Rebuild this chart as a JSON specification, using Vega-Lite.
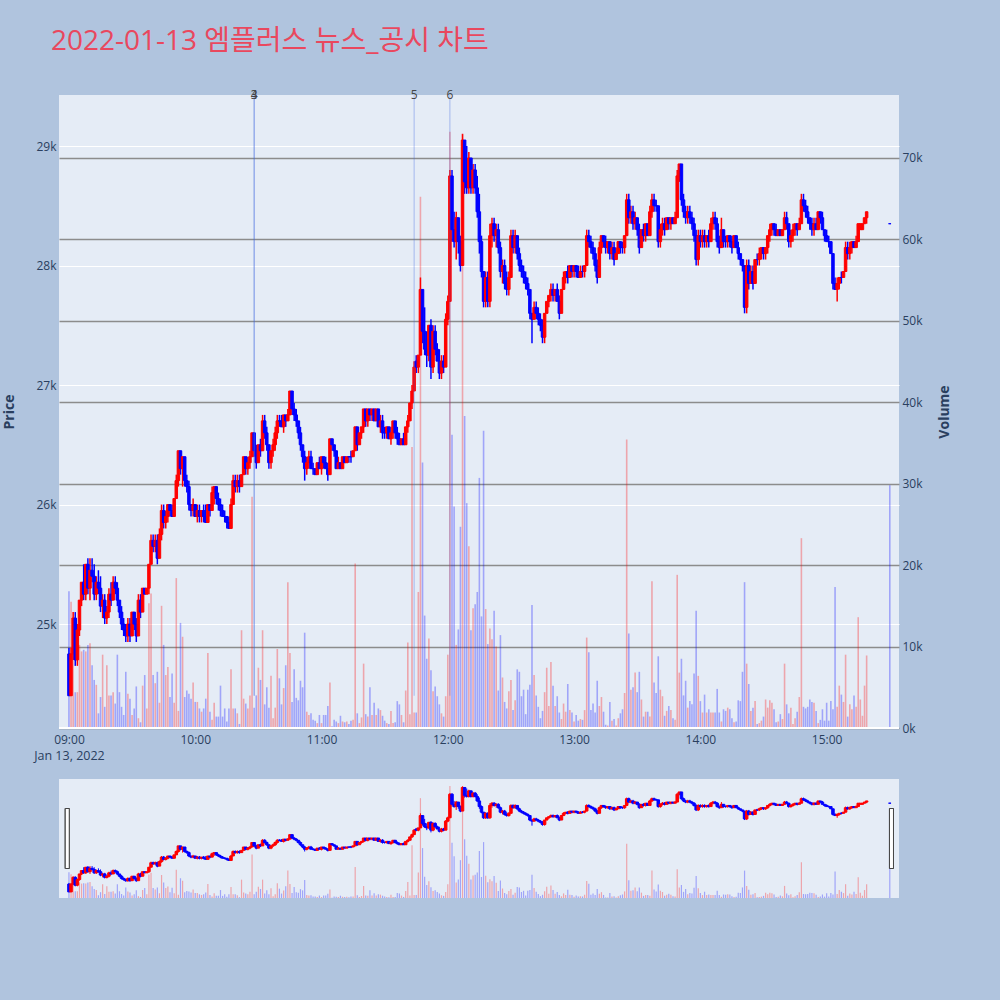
{
  "$schema": "https://vega.github.io/schema/vega-lite/v6.json",
  "background": "#b0c4de",
  "padding": {"left": 2, "top": 28, "right": 50, "bottom": 104},
  "title": {
    "text": "2022-01-13 엠플러스 뉴스_공시 차트",
    "anchor": "start",
    "dx": 48,
    "offset": 33,
    "fontSize": 28,
    "fontWeight": "normal",
    "font": "Open Sans, Noto Sans CJK KR",
    "color": "#e9485e"
  },
  "datasets": {
    "px": [
      {"t":"09:00","o":24750,"h":24800,"l":24400,"c":24400,"v":16800},
      {"t":"09:01","o":24400,"h":24800,"l":24400,"c":24750,"v":15500},
      {"t":"09:02","o":24750,"h":25100,"l":24700,"c":25050,"v":10000},
      {"t":"09:03","o":25050,"h":25100,"l":24650,"c":24700,"v":4400},
      {"t":"09:04","o":24700,"h":25000,"l":24650,"c":24950,"v":4400},
      {"t":"09:05","o":24950,"h":25200,"l":24900,"c":25200,"v":10200},
      {"t":"09:06","o":25200,"h":25350,"l":25150,"c":25350,"v":9400},
      {"t":"09:07","o":25350,"h":25500,"l":25200,"c":25250,"v":9600},
      {"t":"09:08","o":25250,"h":25500,"l":25200,"c":25500,"v":9400},
      {"t":"09:09","o":25500,"h":25550,"l":25250,"c":25300,"v":10200},
      {"t":"09:10","o":25300,"h":25550,"l":25200,"c":25450,"v":10400},
      {"t":"09:11","o":25450,"h":25550,"l":25350,"c":25400,"v":7700},
      {"t":"09:12","o":25400,"h":25500,"l":25200,"c":25250,"v":5900},
      {"t":"09:13","o":25250,"h":25400,"l":25200,"c":25350,"v":5300},
      {"t":"09:14","o":25350,"h":25450,"l":25250,"c":25300,"v":1800},
      {"t":"09:15","o":25300,"h":25400,"l":25100,"c":25150,"v":3800},
      {"t":"09:16","o":25150,"h":25250,"l":25050,"c":25200,"v":9000},
      {"t":"09:17","o":25200,"h":25250,"l":25000,"c":25050,"v":2600},
      {"t":"09:18","o":25050,"h":25150,"l":25000,"c":25100,"v":7700},
      {"t":"09:19","o":25100,"h":25300,"l":25050,"c":25250,"v":4000},
      {"t":"09:20","o":25250,"h":25350,"l":25150,"c":25200,"v":4000},
      {"t":"09:21","o":25200,"h":25400,"l":25200,"c":25350,"v":4400},
      {"t":"09:22","o":25350,"h":25400,"l":25250,"c":25300,"v":3000},
      {"t":"09:23","o":25300,"h":25350,"l":25150,"c":25200,"v":9000},
      {"t":"09:24","o":25200,"h":25200,"l":25050,"c":25100,"v":4400},
      {"t":"09:25","o":25100,"h":25150,"l":24950,"c":25000,"v":2600},
      {"t":"09:26","o":25000,"h":25050,"l":24900,"c":24950,"v":1600},
      {"t":"09:27","o":24950,"h":25000,"l":24850,"c":24900,"v":6900},
      {"t":"09:28","o":24900,"h":25050,"l":24850,"c":25000,"v":4200},
      {"t":"09:29","o":25000,"h":25050,"l":24850,"c":24900,"v":3600},
      {"t":"09:30","o":24900,"h":25100,"l":24900,"c":25100,"v":1600},
      {"t":"09:31","o":25100,"h":25100,"l":24950,"c":25000,"v":2400},
      {"t":"09:32","o":25000,"h":25050,"l":24850,"c":24900,"v":5100},
      {"t":"09:33","o":24900,"h":25250,"l":24900,"c":25200,"v":1200},
      {"t":"09:34","o":25200,"h":25250,"l":25050,"c":25100,"v":700},
      {"t":"09:35","o":25100,"h":25300,"l":25100,"c":25300,"v":5200},
      {"t":"09:36","o":25300,"h":25300,"l":25250,"c":25250,"v":6500},
      {"t":"09:37","o":25250,"h":25300,"l":25250,"c":25300,"v":2400},
      {"t":"09:38","o":25300,"h":25500,"l":25250,"c":25500,"v":15300},
      {"t":"09:39","o":25500,"h":25750,"l":25500,"c":25700,"v":16500},
      {"t":"09:40","o":25700,"h":25750,"l":25600,"c":25650,"v":6500},
      {"t":"09:41","o":25650,"h":25750,"l":25600,"c":25700,"v":5500},
      {"t":"09:42","o":25700,"h":25750,"l":25500,"c":25550,"v":6900},
      {"t":"09:43","o":25550,"h":25800,"l":25550,"c":25750,"v":3100},
      {"t":"09:44","o":25750,"h":26000,"l":25700,"c":25950,"v":15000},
      {"t":"09:45","o":25950,"h":26000,"l":25800,"c":25850,"v":10200},
      {"t":"09:46","o":25850,"h":25950,"l":25800,"c":25900,"v":6500},
      {"t":"09:47","o":25900,"h":26000,"l":25850,"c":26000,"v":7500},
      {"t":"09:48","o":26000,"h":26000,"l":25900,"c":25950,"v":3800},
      {"t":"09:49","o":25950,"h":26000,"l":25900,"c":25900,"v":6700},
      {"t":"09:50","o":25900,"h":26050,"l":25900,"c":26050,"v":3100},
      {"t":"09:51","o":26050,"h":26250,"l":26050,"c":26200,"v":18400},
      {"t":"09:52","o":26200,"h":26450,"l":26150,"c":26450,"v":2100},
      {"t":"09:53","o":26450,"h":26450,"l":26250,"c":26300,"v":12900},
      {"t":"09:54","o":26300,"h":26400,"l":26150,"c":26400,"v":11200},
      {"t":"09:55","o":26400,"h":26400,"l":26150,"c":26200,"v":3800},
      {"t":"09:56","o":26200,"h":26250,"l":26100,"c":26150,"v":4600},
      {"t":"09:57","o":26150,"h":26200,"l":25950,"c":26000,"v":4200},
      {"t":"09:58","o":26000,"h":26000,"l":25900,"c":25950,"v":3600},
      {"t":"09:59","o":25950,"h":26050,"l":25900,"c":26000,"v":5600},
      {"t":"10:00","o":26000,"h":26000,"l":25900,"c":25900,"v":3200},
      {"t":"10:01","o":25900,"h":26000,"l":25850,"c":25950,"v":3200},
      {"t":"10:02","o":25950,"h":26000,"l":25850,"c":25900,"v":2400},
      {"t":"10:03","o":25900,"h":25950,"l":25850,"c":25950,"v":2000},
      {"t":"10:04","o":25950,"h":26000,"l":25850,"c":25900,"v":2400},
      {"t":"10:05","o":25900,"h":26000,"l":25850,"c":25850,"v":3600},
      {"t":"10:06","o":25850,"h":26000,"l":25850,"c":26000,"v":9200},
      {"t":"10:07","o":26000,"h":26000,"l":25900,"c":25950,"v":2000},
      {"t":"10:08","o":25950,"h":26150,"l":25950,"c":26100,"v":1000},
      {"t":"10:09","o":26100,"h":26150,"l":26000,"c":26150,"v":3100},
      {"t":"10:10","o":26150,"h":26150,"l":26000,"c":26050,"v":1400},
      {"t":"10:11","o":26050,"h":26100,"l":25950,"c":26000,"v":1400},
      {"t":"10:12","o":26000,"h":26050,"l":25900,"c":25950,"v":5200},
      {"t":"10:13","o":25950,"h":26000,"l":25900,"c":25900,"v":1400},
      {"t":"10:14","o":25900,"h":25950,"l":25850,"c":25900,"v":2400},
      {"t":"10:15","o":25900,"h":25900,"l":25800,"c":25850,"v":800},
      {"t":"10:16","o":25850,"h":25900,"l":25800,"c":25800,"v":2400},
      {"t":"10:17","o":25800,"h":26050,"l":25800,"c":26000,"v":7200},
      {"t":"10:18","o":26000,"h":26250,"l":26000,"c":26200,"v":2400},
      {"t":"10:19","o":26200,"h":26250,"l":26100,"c":26150,"v":2400},
      {"t":"10:20","o":26150,"h":26250,"l":26100,"c":26200,"v":1800},
      {"t":"10:21","o":26200,"h":26250,"l":26100,"c":26150,"v":500},
      {"t":"10:22","o":26150,"h":26250,"l":26150,"c":26250,"v":12000},
      {"t":"10:23","o":26250,"h":26400,"l":26250,"c":26400,"v":3600},
      {"t":"10:24","o":26400,"h":26400,"l":26250,"c":26300,"v":3000},
      {"t":"10:25","o":26300,"h":26400,"l":26250,"c":26350,"v":2400},
      {"t":"10:26","o":26350,"h":26450,"l":26300,"c":26400,"v":4000},
      {"t":"10:27","o":26400,"h":26600,"l":26400,"c":26600,"v":28400},
      {"t":"10:28","o":26600,"h":26600,"l":26400,"c":26450,"v":2500},
      {"t":"10:29","o":26450,"h":26500,"l":26300,"c":26350,"v":4000},
      {"t":"10:30","o":26350,"h":26500,"l":26350,"c":26500,"v":7400},
      {"t":"10:31","o":26500,"h":26550,"l":26400,"c":26450,"v":5900},
      {"t":"10:32","o":26450,"h":26750,"l":26450,"c":26700,"v":12000},
      {"t":"10:33","o":26700,"h":26750,"l":26550,"c":26600,"v":2900},
      {"t":"10:34","o":26600,"h":26650,"l":26450,"c":26500,"v":5000},
      {"t":"10:35","o":26500,"h":26500,"l":26300,"c":26350,"v":2500},
      {"t":"10:36","o":26350,"h":26450,"l":26300,"c":26450,"v":6400},
      {"t":"10:37","o":26450,"h":26550,"l":26400,"c":26500,"v":1200},
      {"t":"10:38","o":26500,"h":26650,"l":26450,"c":26600,"v":2500},
      {"t":"10:39","o":26600,"h":26750,"l":26550,"c":26700,"v":9700},
      {"t":"10:40","o":26700,"h":26750,"l":26650,"c":26700,"v":6100},
      {"t":"10:41","o":26700,"h":26750,"l":26650,"c":26650,"v":2900},
      {"t":"10:42","o":26650,"h":26750,"l":26600,"c":26750,"v":4900},
      {"t":"10:43","o":26750,"h":26750,"l":26650,"c":26700,"v":7700},
      {"t":"10:44","o":26700,"h":26800,"l":26700,"c":26750,"v":17900},
      {"t":"10:45","o":26750,"h":26950,"l":26750,"c":26950,"v":9200},
      {"t":"10:46","o":26950,"h":26950,"l":26750,"c":26800,"v":3200},
      {"t":"10:47","o":26800,"h":26850,"l":26700,"c":26750,"v":7200},
      {"t":"10:48","o":26750,"h":26800,"l":26650,"c":26700,"v":3700},
      {"t":"10:49","o":26700,"h":26700,"l":26550,"c":26600,"v":3400},
      {"t":"10:50","o":26600,"h":26650,"l":26450,"c":26500,"v":5800},
      {"t":"10:51","o":26500,"h":26500,"l":26350,"c":26400,"v":5000},
      {"t":"10:52","o":26400,"h":26450,"l":26200,"c":26300,"v":11700},
      {"t":"10:53","o":26300,"h":26400,"l":26250,"c":26350,"v":2000},
      {"t":"10:54","o":26350,"h":26450,"l":26300,"c":26400,"v":1600},
      {"t":"10:55","o":26400,"h":26450,"l":26300,"c":26300,"v":1800},
      {"t":"10:56","o":26300,"h":26350,"l":26250,"c":26300,"v":1000},
      {"t":"10:57","o":26300,"h":26300,"l":26250,"c":26250,"v":900},
      {"t":"10:58","o":26250,"h":26350,"l":26250,"c":26350,"v":600},
      {"t":"10:59","o":26350,"h":26400,"l":26300,"c":26300,"v":1600},
      {"t":"11:00","o":26300,"h":26400,"l":26250,"c":26400,"v":600},
      {"t":"11:01","o":26400,"h":26400,"l":26300,"c":26350,"v":1600},
      {"t":"11:02","o":26350,"h":26400,"l":26300,"c":26300,"v":1600},
      {"t":"11:03","o":26300,"h":26350,"l":26200,"c":26250,"v":2700},
      {"t":"11:04","o":26250,"h":26550,"l":26250,"c":26550,"v":5600},
      {"t":"11:05","o":26550,"h":26550,"l":26450,"c":26500,"v":200},
      {"t":"11:06","o":26500,"h":26500,"l":26400,"c":26450,"v":1000},
      {"t":"11:07","o":26450,"h":26450,"l":26300,"c":26300,"v":800},
      {"t":"11:08","o":26300,"h":26400,"l":26300,"c":26350,"v":600},
      {"t":"11:09","o":26350,"h":26350,"l":26300,"c":26300,"v":1500},
      {"t":"11:10","o":26300,"h":26400,"l":26300,"c":26400,"v":800},
      {"t":"11:11","o":26400,"h":26400,"l":26350,"c":26350,"v":700},
      {"t":"11:12","o":26350,"h":26400,"l":26350,"c":26400,"v":800},
      {"t":"11:13","o":26400,"h":26400,"l":26350,"c":26400,"v":500},
      {"t":"11:14","o":26400,"h":26450,"l":26350,"c":26400,"v":900},
      {"t":"11:15","o":26400,"h":26450,"l":26400,"c":26450,"v":1000},
      {"t":"11:16","o":26450,"h":26650,"l":26450,"c":26650,"v":20200},
      {"t":"11:17","o":26650,"h":26650,"l":26450,"c":26500,"v":1800},
      {"t":"11:18","o":26500,"h":26600,"l":26500,"c":26600,"v":600},
      {"t":"11:19","o":26600,"h":26650,"l":26550,"c":26650,"v":1300},
      {"t":"11:20","o":26650,"h":26800,"l":26600,"c":26800,"v":7900},
      {"t":"11:21","o":26800,"h":26800,"l":26650,"c":26700,"v":1700},
      {"t":"11:22","o":26700,"h":26800,"l":26650,"c":26800,"v":1400},
      {"t":"11:23","o":26800,"h":26800,"l":26700,"c":26750,"v":5000},
      {"t":"11:24","o":26750,"h":26800,"l":26700,"c":26800,"v":1600},
      {"t":"11:25","o":26800,"h":26800,"l":26700,"c":26700,"v":3100},
      {"t":"11:26","o":26700,"h":26800,"l":26700,"c":26800,"v":1600},
      {"t":"11:27","o":26800,"h":26800,"l":26650,"c":26650,"v":2400},
      {"t":"11:28","o":26650,"h":26750,"l":26600,"c":26700,"v":2200},
      {"t":"11:29","o":26700,"h":26750,"l":26550,"c":26600,"v":1500},
      {"t":"11:30","o":26600,"h":26650,"l":26550,"c":26600,"v":900},
      {"t":"11:31","o":26600,"h":26650,"l":26550,"c":26650,"v":600},
      {"t":"11:32","o":26650,"h":26650,"l":26550,"c":26550,"v":500},
      {"t":"11:33","o":26550,"h":26650,"l":26500,"c":26600,"v":2100},
      {"t":"11:34","o":26600,"h":26700,"l":26550,"c":26700,"v":600},
      {"t":"11:35","o":26700,"h":26700,"l":26550,"c":26600,"v":700},
      {"t":"11:36","o":26600,"h":26650,"l":26500,"c":26550,"v":3300},
      {"t":"11:37","o":26550,"h":26600,"l":26500,"c":26500,"v":2900},
      {"t":"11:38","o":26500,"h":26550,"l":26500,"c":26550,"v":1600},
      {"t":"11:39","o":26550,"h":26600,"l":26500,"c":26500,"v":700},
      {"t":"11:40","o":26500,"h":26650,"l":26500,"c":26650,"v":4600},
      {"t":"11:41","o":26650,"h":26750,"l":26600,"c":26700,"v":10500},
      {"t":"11:42","o":26700,"h":26850,"l":26700,"c":26850,"v":1700},
      {"t":"11:43","o":26850,"h":27000,"l":26800,"c":26950,"v":34500},
      {"t":"11:44","o":26950,"h":27200,"l":26950,"c":27150,"v":1900},
      {"t":"11:45","o":27200,"h":27250,"l":27100,"c":27150,"v":1900},
      {"t":"11:46","o":27150,"h":27250,"l":27100,"c":27250,"v":16700},
      {"t":"11:47","o":27250,"h":27900,"l":27250,"c":27800,"v":65200},
      {"t":"11:48","o":27800,"h":27800,"l":27350,"c":27450,"v":32600},
      {"t":"11:49","o":27450,"h":27650,"l":27250,"c":27300,"v":13800},
      {"t":"11:50","o":27300,"h":27450,"l":27150,"c":27250,"v":8500},
      {"t":"11:51","o":27250,"h":27500,"l":27200,"c":27500,"v":11000},
      {"t":"11:52","o":27500,"h":27550,"l":27050,"c":27150,"v":7100},
      {"t":"11:53","o":27150,"h":27500,"l":27100,"c":27450,"v":4500},
      {"t":"11:54","o":27450,"h":27500,"l":27250,"c":27300,"v":5100},
      {"t":"11:55","o":27300,"h":27350,"l":27200,"c":27200,"v":3900},
      {"t":"11:56","o":27200,"h":27300,"l":27050,"c":27100,"v":2900},
      {"t":"11:57","o":27100,"h":27250,"l":27050,"c":27200,"v":1800},
      {"t":"11:58","o":27200,"h":27250,"l":27100,"c":27150,"v":1400},
      {"t":"11:59","o":27150,"h":27600,"l":27150,"c":27550,"v":3900},
      {"t":"12:00","o":27550,"h":27750,"l":27500,"c":27700,"v":9000},
      {"t":"12:01","o":27700,"h":28800,"l":27700,"c":28750,"v":73200},
      {"t":"12:02","o":28750,"h":28800,"l":28200,"c":28300,"v":36000},
      {"t":"12:03","o":28300,"h":28450,"l":28150,"c":28200,"v":27200},
      {"t":"12:04","o":28200,"h":28450,"l":28050,"c":28400,"v":10200},
      {"t":"12:05","o":28400,"h":28400,"l":28100,"c":28200,"v":12100},
      {"t":"12:06","o":28200,"h":28250,"l":27950,"c":28000,"v":24700},
      {"t":"12:07","o":28000,"h":29100,"l":28000,"c":29050,"v":73000},
      {"t":"12:08","o":29050,"h":29050,"l":28600,"c":28700,"v":38300},
      {"t":"12:09","o":28700,"h":29000,"l":28600,"c":28650,"v":27600},
      {"t":"12:10","o":28650,"h":28950,"l":28600,"c":28900,"v":22300},
      {"t":"12:11","o":28900,"h":28900,"l":28600,"c":28650,"v":12000},
      {"t":"12:12","o":28650,"h":28850,"l":28600,"c":28800,"v":14700},
      {"t":"12:13","o":28800,"h":28850,"l":28600,"c":28650,"v":15200},
      {"t":"12:14","o":28650,"h":28750,"l":28400,"c":28450,"v":16700},
      {"t":"12:15","o":28450,"h":28600,"l":28100,"c":28200,"v":30700},
      {"t":"12:16","o":28200,"h":28250,"l":27900,"c":27950,"v":13700},
      {"t":"12:17","o":27950,"h":27950,"l":27650,"c":27700,"v":36500},
      {"t":"12:18","o":27700,"h":27950,"l":27650,"c":27900,"v":14600},
      {"t":"12:19","o":27900,"h":27950,"l":27650,"c":27700,"v":10300},
      {"t":"12:20","o":27700,"h":28350,"l":27650,"c":28250,"v":12200},
      {"t":"12:21","o":28250,"h":28400,"l":28150,"c":28350,"v":10900},
      {"t":"12:22","o":28350,"h":28400,"l":28200,"c":28250,"v":14400},
      {"t":"12:23","o":28250,"h":28350,"l":28150,"c":28300,"v":10000},
      {"t":"12:24","o":28300,"h":28350,"l":28100,"c":28150,"v":4600},
      {"t":"12:25","o":28150,"h":28200,"l":27900,"c":27950,"v":11400},
      {"t":"12:26","o":27950,"h":28050,"l":27850,"c":28000,"v":6200},
      {"t":"12:27","o":28000,"h":28050,"l":27800,"c":27850,"v":3200},
      {"t":"12:28","o":27850,"h":27950,"l":27750,"c":27800,"v":2400},
      {"t":"12:29","o":27800,"h":27950,"l":27750,"c":27900,"v":4500},
      {"t":"12:30","o":27900,"h":28300,"l":27900,"c":28250,"v":5900},
      {"t":"12:31","o":28250,"h":28300,"l":28100,"c":28150,"v":2200},
      {"t":"12:32","o":28150,"h":28300,"l":28100,"c":28250,"v":3400},
      {"t":"12:33","o":28250,"h":28250,"l":28050,"c":28100,"v":7200},
      {"t":"12:34","o":28100,"h":28150,"l":27950,"c":28000,"v":6900},
      {"t":"12:35","o":28000,"h":28050,"l":27900,"c":27950,"v":3900},
      {"t":"12:36","o":27950,"h":28000,"l":27850,"c":27900,"v":4700},
      {"t":"12:37","o":27900,"h":27950,"l":27800,"c":27850,"v":1700},
      {"t":"12:38","o":27850,"h":27900,"l":27750,"c":27800,"v":4700},
      {"t":"12:39","o":27800,"h":27800,"l":27550,"c":27600,"v":5300},
      {"t":"12:40","o":27600,"h":27600,"l":27350,"c":27550,"v":15100},
      {"t":"12:41","o":27550,"h":27700,"l":27550,"c":27650,"v":6500},
      {"t":"12:42","o":27650,"h":27700,"l":27550,"c":27600,"v":4000},
      {"t":"12:43","o":27600,"h":27650,"l":27500,"c":27550,"v":2600},
      {"t":"12:44","o":27550,"h":27600,"l":27450,"c":27500,"v":1200},
      {"t":"12:45","o":27500,"h":27550,"l":27350,"c":27400,"v":2100},
      {"t":"12:46","o":27400,"h":27600,"l":27350,"c":27600,"v":4400},
      {"t":"12:47","o":27600,"h":27700,"l":27600,"c":27700,"v":7400},
      {"t":"12:48","o":27700,"h":27750,"l":27650,"c":27750,"v":2700},
      {"t":"12:49","o":27750,"h":27850,"l":27700,"c":27800,"v":8100},
      {"t":"12:50","o":27800,"h":27850,"l":27700,"c":27750,"v":5200},
      {"t":"12:51","o":27750,"h":27800,"l":27700,"c":27800,"v":2700},
      {"t":"12:52","o":27800,"h":27850,"l":27700,"c":27700,"v":3900},
      {"t":"12:53","o":27700,"h":27750,"l":27550,"c":27600,"v":1900},
      {"t":"12:54","o":27600,"h":27800,"l":27600,"c":27800,"v":1100},
      {"t":"12:55","o":27800,"h":27950,"l":27800,"c":27900,"v":3000},
      {"t":"12:56","o":27900,"h":27950,"l":27850,"c":27950,"v":2000},
      {"t":"12:57","o":27950,"h":28000,"l":27850,"c":27900,"v":5400},
      {"t":"12:58","o":27900,"h":28000,"l":27900,"c":28000,"v":2200},
      {"t":"12:59","o":28000,"h":28000,"l":27900,"c":27950,"v":1900},
      {"t":"13:00","o":27950,"h":28000,"l":27900,"c":28000,"v":800},
      {"t":"13:01","o":28000,"h":28000,"l":27900,"c":27950,"v":1600},
      {"t":"13:02","o":27950,"h":28000,"l":27900,"c":27900,"v":900},
      {"t":"13:03","o":27900,"h":28000,"l":27900,"c":27950,"v":1100},
      {"t":"13:04","o":27950,"h":28000,"l":27900,"c":27950,"v":1000},
      {"t":"13:05","o":27950,"h":28000,"l":27900,"c":28000,"v":2200},
      {"t":"13:06","o":28000,"h":28300,"l":28000,"c":28250,"v":11100},
      {"t":"13:07","o":28250,"h":28300,"l":28150,"c":28200,"v":9300},
      {"t":"13:08","o":28200,"h":28250,"l":28100,"c":28150,"v":2200},
      {"t":"13:09","o":28150,"h":28200,"l":28050,"c":28100,"v":3000},
      {"t":"13:10","o":28100,"h":28150,"l":27950,"c":28000,"v":1900},
      {"t":"13:11","o":28000,"h":28050,"l":27850,"c":27900,"v":5800},
      {"t":"13:12","o":27900,"h":28200,"l":27900,"c":28150,"v":2700},
      {"t":"13:13","o":28150,"h":28250,"l":28100,"c":28250,"v":3800},
      {"t":"13:14","o":28250,"h":28250,"l":28150,"c":28200,"v":2000},
      {"t":"13:15","o":28200,"h":28250,"l":28100,"c":28150,"v":400},
      {"t":"13:16","o":28150,"h":28200,"l":28100,"c":28200,"v":300},
      {"t":"13:17","o":28200,"h":28200,"l":28050,"c":28100,"v":3200},
      {"t":"13:18","o":28100,"h":28200,"l":28050,"c":28150,"v":900},
      {"t":"13:19","o":28150,"h":28200,"l":28000,"c":28050,"v":1100},
      {"t":"13:20","o":28050,"h":28150,"l":28050,"c":28100,"v":300},
      {"t":"13:21","o":28100,"h":28200,"l":28100,"c":28200,"v":1200},
      {"t":"13:22","o":28200,"h":28200,"l":28100,"c":28150,"v":1800},
      {"t":"13:23","o":28150,"h":28200,"l":28100,"c":28150,"v":2300},
      {"t":"13:24","o":28150,"h":28250,"l":28100,"c":28250,"v":4300},
      {"t":"13:25","o":28250,"h":28600,"l":28250,"c":28550,"v":35400},
      {"t":"13:26","o":28550,"h":28600,"l":28350,"c":28400,"v":11600},
      {"t":"13:27","o":28400,"h":28500,"l":28350,"c":28450,"v":4700},
      {"t":"13:28","o":28450,"h":28500,"l":28300,"c":28350,"v":5000},
      {"t":"13:29","o":28350,"h":28450,"l":28300,"c":28400,"v":6800},
      {"t":"13:30","o":28400,"h":28400,"l":28250,"c":28300,"v":4400},
      {"t":"13:31","o":28300,"h":28350,"l":28100,"c":28150,"v":6900},
      {"t":"13:32","o":28150,"h":28300,"l":28150,"c":28300,"v":3500},
      {"t":"13:33","o":28300,"h":28350,"l":28200,"c":28250,"v":1400},
      {"t":"13:34","o":28250,"h":28350,"l":28200,"c":28350,"v":2000},
      {"t":"13:35","o":28350,"h":28350,"l":28250,"c":28250,"v":2000},
      {"t":"13:36","o":28250,"h":28500,"l":28250,"c":28450,"v":1400},
      {"t":"13:37","o":28450,"h":28600,"l":28400,"c":28550,"v":18000},
      {"t":"13:38","o":28550,"h":28600,"l":28450,"c":28500,"v":5600},
      {"t":"13:39","o":28500,"h":28550,"l":28450,"c":28500,"v":4300},
      {"t":"13:40","o":28500,"h":28500,"l":28150,"c":28200,"v":8800},
      {"t":"13:41","o":28200,"h":28350,"l":28150,"c":28300,"v":4700},
      {"t":"13:42","o":28300,"h":28400,"l":28250,"c":28350,"v":3900},
      {"t":"13:43","o":28350,"h":28400,"l":28250,"c":28300,"v":1500},
      {"t":"13:44","o":28300,"h":28400,"l":28300,"c":28400,"v":2100},
      {"t":"13:45","o":28400,"h":28400,"l":28300,"c":28350,"v":2700},
      {"t":"13:46","o":28350,"h":28400,"l":28300,"c":28400,"v":2200},
      {"t":"13:47","o":28400,"h":28400,"l":28350,"c":28350,"v":1200},
      {"t":"13:48","o":28350,"h":28450,"l":28350,"c":28400,"v":1000},
      {"t":"13:49","o":28400,"h":28800,"l":28400,"c":28750,"v":18800},
      {"t":"13:50","o":28750,"h":28850,"l":28700,"c":28850,"v":6800},
      {"t":"13:51","o":28850,"h":28850,"l":28500,"c":28550,"v":8500},
      {"t":"13:52","o":28550,"h":28600,"l":28400,"c":28450,"v":4000},
      {"t":"13:53","o":28450,"h":28500,"l":28350,"c":28400,"v":5800},
      {"t":"13:54","o":28400,"h":28500,"l":28350,"c":28450,"v":2500},
      {"t":"13:55","o":28450,"h":28500,"l":28350,"c":28400,"v":3300},
      {"t":"13:56","o":28400,"h":28450,"l":28300,"c":28350,"v":2900},
      {"t":"13:57","o":28350,"h":28400,"l":28200,"c":28250,"v":6700},
      {"t":"13:58","o":28250,"h":28300,"l":28000,"c":28050,"v":14400},
      {"t":"13:59","o":28050,"h":28300,"l":28000,"c":28250,"v":6400},
      {"t":"14:00","o":28250,"h":28300,"l":28150,"c":28200,"v":3300},
      {"t":"14:01","o":28200,"h":28300,"l":28150,"c":28250,"v":1900},
      {"t":"14:02","o":28250,"h":28300,"l":28150,"c":28200,"v":4100},
      {"t":"14:03","o":28200,"h":28250,"l":28150,"c":28250,"v":1900},
      {"t":"14:04","o":28250,"h":28300,"l":28150,"c":28200,"v":2300},
      {"t":"14:05","o":28200,"h":28400,"l":28200,"c":28350,"v":1900},
      {"t":"14:06","o":28350,"h":28450,"l":28300,"c":28400,"v":1900},
      {"t":"14:07","o":28400,"h":28450,"l":28300,"c":28350,"v":1900},
      {"t":"14:08","o":28350,"h":28400,"l":28150,"c":28200,"v":4800},
      {"t":"14:09","o":28200,"h":28250,"l":28100,"c":28150,"v":1900},
      {"t":"14:10","o":28150,"h":28400,"l":28150,"c":28300,"v":800},
      {"t":"14:11","o":28300,"h":28300,"l":28150,"c":28200,"v":2300},
      {"t":"14:12","o":28200,"h":28250,"l":28150,"c":28200,"v":2100},
      {"t":"14:13","o":28200,"h":28250,"l":28150,"c":28250,"v":2500},
      {"t":"14:14","o":28250,"h":28250,"l":28150,"c":28200,"v":2300},
      {"t":"14:15","o":28200,"h":28250,"l":28100,"c":28150,"v":1200},
      {"t":"14:16","o":28150,"h":28250,"l":28150,"c":28250,"v":700},
      {"t":"14:17","o":28250,"h":28250,"l":28150,"c":28150,"v":800},
      {"t":"14:18","o":28150,"h":28200,"l":28050,"c":28100,"v":3400},
      {"t":"14:19","o":28100,"h":28100,"l":28000,"c":28050,"v":3300},
      {"t":"14:20","o":28050,"h":28050,"l":27950,"c":28000,"v":6900},
      {"t":"14:21","o":28000,"h":28000,"l":27600,"c":27650,"v":17900},
      {"t":"14:22","o":27650,"h":28050,"l":27600,"c":28000,"v":7900},
      {"t":"14:23","o":28000,"h":28050,"l":27800,"c":27850,"v":5400},
      {"t":"14:24","o":27850,"h":28000,"l":27850,"c":27950,"v":2100},
      {"t":"14:25","o":27950,"h":28000,"l":27800,"c":27850,"v":2500},
      {"t":"14:26","o":27850,"h":28050,"l":27850,"c":28050,"v":3300},
      {"t":"14:27","o":28050,"h":28100,"l":28000,"c":28050,"v":500},
      {"t":"14:28","o":28050,"h":28150,"l":28000,"c":28100,"v":600},
      {"t":"14:29","o":28100,"h":28150,"l":28050,"c":28150,"v":900},
      {"t":"14:30","o":28150,"h":28150,"l":28050,"c":28100,"v":1400},
      {"t":"14:31","o":28100,"h":28150,"l":28050,"c":28150,"v":3500},
      {"t":"14:32","o":28150,"h":28250,"l":28100,"c":28250,"v":2500},
      {"t":"14:33","o":28250,"h":28350,"l":28200,"c":28300,"v":3400},
      {"t":"14:34","o":28300,"h":28350,"l":28250,"c":28350,"v":3100},
      {"t":"14:35","o":28350,"h":28350,"l":28250,"c":28300,"v":2300},
      {"t":"14:36","o":28300,"h":28350,"l":28250,"c":28250,"v":700},
      {"t":"14:37","o":28250,"h":28300,"l":28250,"c":28300,"v":800},
      {"t":"14:38","o":28300,"h":28300,"l":28250,"c":28250,"v":1700},
      {"t":"14:39","o":28250,"h":28300,"l":28250,"c":28300,"v":1100},
      {"t":"14:40","o":28300,"h":28450,"l":28300,"c":28400,"v":7900},
      {"t":"14:41","o":28400,"h":28450,"l":28300,"c":28350,"v":2900},
      {"t":"14:42","o":28350,"h":28350,"l":28150,"c":28200,"v":1800},
      {"t":"14:43","o":28200,"h":28300,"l":28150,"c":28250,"v":2500},
      {"t":"14:44","o":28250,"h":28350,"l":28200,"c":28300,"v":500},
      {"t":"14:45","o":28300,"h":28350,"l":28250,"c":28350,"v":1200},
      {"t":"14:46","o":28350,"h":28350,"l":28250,"c":28300,"v":2000},
      {"t":"14:47","o":28300,"h":28400,"l":28300,"c":28350,"v":3800},
      {"t":"14:48","o":28350,"h":28600,"l":28350,"c":28550,"v":23300},
      {"t":"14:49","o":28550,"h":28600,"l":28450,"c":28500,"v":2600},
      {"t":"14:50","o":28500,"h":28550,"l":28400,"c":28450,"v":2400},
      {"t":"14:51","o":28450,"h":28500,"l":28350,"c":28400,"v":2600},
      {"t":"14:52","o":28400,"h":28400,"l":28300,"c":28350,"v":3500},
      {"t":"14:53","o":28350,"h":28400,"l":28250,"c":28300,"v":3200},
      {"t":"14:54","o":28300,"h":28400,"l":28250,"c":28350,"v":3100},
      {"t":"14:55","o":28350,"h":28400,"l":28300,"c":28300,"v":2100},
      {"t":"14:56","o":28300,"h":28450,"l":28300,"c":28450,"v":600},
      {"t":"14:57","o":28450,"h":28450,"l":28350,"c":28400,"v":1000},
      {"t":"14:58","o":28400,"h":28450,"l":28300,"c":28300,"v":2300},
      {"t":"14:59","o":28300,"h":28300,"l":28200,"c":28250,"v":900},
      {"t":"15:00","o":28250,"h":28300,"l":28200,"c":28200,"v":3100},
      {"t":"15:01","o":28200,"h":28250,"l":28150,"c":28200,"v":900},
      {"t":"15:02","o":28200,"h":28200,"l":28100,"c":28100,"v":3300},
      {"t":"15:03","o":28100,"h":28100,"l":27800,"c":27850,"v":2300},
      {"t":"15:04","o":27850,"h":27900,"l":27800,"c":27800,"v":17300},
      {"t":"15:05","o":27800,"h":27900,"l":27700,"c":27850,"v":2600},
      {"t":"15:06","o":27850,"h":27900,"l":27800,"c":27900,"v":5200},
      {"t":"15:07","o":27900,"h":27950,"l":27850,"c":27900,"v":4100},
      {"t":"15:08","o":27900,"h":27950,"l":27900,"c":27950,"v":3200},
      {"t":"15:09","o":27950,"h":28200,"l":27950,"c":28150,"v":9000},
      {"t":"15:10","o":28150,"h":28200,"l":28050,"c":28100,"v":1400},
      {"t":"15:11","o":28100,"h":28200,"l":28050,"c":28150,"v":2900},
      {"t":"15:12","o":28150,"h":28200,"l":28100,"c":28200,"v":2300},
      {"t":"15:13","o":28200,"h":28200,"l":28150,"c":28150,"v":4000},
      {"t":"15:14","o":28150,"h":28250,"l":28150,"c":28200,"v":2600},
      {"t":"15:15","o":28200,"h":28350,"l":28200,"c":28350,"v":13600},
      {"t":"15:16","o":28300,"h":28350,"l":28300,"c":28350,"v":3500},
      {"t":"15:17","o":28300,"h":28350,"l":28300,"c":28350,"v":1500},
      {"t":"15:18","o":28350,"h":28400,"l":28350,"c":28400,"v":5200},
      {"t":"15:19","o":28400,"h":28450,"l":28350,"c":28450,"v":8900},
      {"t":"15:30","o":28350,"h":28350,"l":28350,"c":28350,"v":29800}
    ],
    "events": [
      {"t":"10:28","n":"3"},
      {"t":"10:28","n":"4"},
      {"t":"11:44","n":"5"},
      {"t":"12:01","n":"6"}
    ]
  },
  "vconcat": [
    {
      "width": 840,
      "height": 633,
      "layer": [
        {
          "data": {"name": "px"},
          "transform": [{"calculate": "(toNumber(slice(datum.t, 0, 2)) - 9) * 60 + toNumber(slice(datum.t, 3, 5))", "as": "m"}],
          "mark": {"type": "bar", "width": 1.6, "opacity": 0.3},
          "encoding": {
            "x": {
              "field": "m",
              "type": "quantitative",
              "scale": {"domain": [-2.35, 392], "nice": false, "zero": false},
              "axis": {
                "orient": "bottom",
                "title": null,
                "grid": false,
                "domain": false,
                "ticks": false,
                "labelFlush": false,
                "labelPadding": 6,
                "values": [0, 60, 120, 180, 240, 300, 360],
                "labelExpr": "(datum.value < 60 ? '0' : '') + (9 + datum.value / 60) + ':00'"
              }
            },
            "y": {
              "field": "v",
              "type": "quantitative",
              "scale": {"domain": [0, 77700], "nice": false},
              "axis": {
                "orient": "right",
                "title": "Volume",
                "titleAngle": 270,
                "values": [0, 10000, 20000, 30000, 40000, 50000, 60000, 70000],
                "format": "~s",
                "domain": false,
                "ticks": false,
                "labelPadding": 3,
                "titlePadding": 29,
                "grid": true,
                "gridColor": "#8c8c8c",
                "gridWidth": 1.5
              }
            },
            "color": {"condition": {"test": "datum.c > datum.o", "value": "#ff0000"}, "value": "#0000ff"}
          }
        },
        {
          "data": {"name": "events"},
          "mark": {"type": "rule", "color": "white", "strokeWidth": 2},
          "encoding": {
            "y": {"datum": 0, "type": "quantitative", "scale": {"domain": [0, 77700], "nice": false}, "axis": null}
          }
        },
        {
          "data": {"name": "px"},
          "transform": [{"calculate": "(toNumber(slice(datum.t, 0, 2)) - 9) * 60 + toNumber(slice(datum.t, 3, 5))", "as": "m"}],
          "mark": {"type": "rule", "strokeWidth": 1.5},
          "encoding": {
            "x": {
              "field": "m",
              "type": "quantitative",
              "axis": {
                "orient": "bottom",
                "title": null,
                "grid": false,
                "domain": false,
                "ticks": false,
                "labelFlush": false,
                "labelPadding": 21,
                "labelFontSize": 12.5,
                "values": [0],
                "labelExpr": "'Jan 13, 2022'"
              }
            },
            "y": {
              "field": "l",
              "type": "quantitative",
              "scale": {"domain": [24130, 29427], "nice": false, "zero": false},
              "axis": {
                "orient": "left",
                "title": "Price",
                "values": [25000, 26000, 27000, 28000, 29000],
                "format": "~s",
                "domain": false,
                "ticks": false,
                "labelPadding": 3,
                "titlePadding": 19,
                "grid": true,
                "gridColor": "white",
                "gridWidth": 1
              }
            },
            "y2": {"field": "h"},
            "color": {"condition": {"test": "datum.c > datum.o", "value": "#ff0000"}, "value": "#0000ff"}
          }
        },
        {
          "data": {"name": "px"},
          "transform": [{"calculate": "(toNumber(slice(datum.t, 0, 2)) - 9) * 60 + toNumber(slice(datum.t, 3, 5))", "as": "m"}],
          "mark": {"type": "bar", "width": 2.5, "strokeWidth": 1},
          "encoding": {
            "x": {"field": "m", "type": "quantitative", "axis": null},
            "y": {"field": "o", "type": "quantitative", "scale": {"domain": [24130, 29427], "nice": false, "zero": false}, "axis": null},
            "y2": {"field": "c"},
            "color": {"condition": {"test": "datum.c > datum.o", "value": "#ff0000"}, "value": "#0000ff"},
            "stroke": {"condition": {"test": "datum.c > datum.o", "value": "#ff0000"}, "value": "#0000ff"}
          }
        },
        {
          "data": {"name": "events"},
          "transform": [{"calculate": "(toNumber(slice(datum.t, 0, 2)) - 9) * 60 + toNumber(slice(datum.t, 3, 5))", "as": "m"}],
          "mark": {"type": "rule", "color": "#4169e1", "opacity": 0.4, "strokeWidth": 1},
          "encoding": {
            "x": {"field": "m", "type": "quantitative", "axis": null},
            "y": {"datum": 24400, "type": "quantitative", "scale": {"domain": [24130, 29427], "nice": false, "zero": false}, "axis": null},
            "y2": {"datum": 29427}
          }
        },
        {
          "data": {"name": "events"},
          "transform": [{"calculate": "(toNumber(slice(datum.t, 0, 2)) - 9) * 60 + toNumber(slice(datum.t, 3, 5))", "as": "m"}],
          "mark": {"type": "text", "baseline": "middle", "align": "center", "fontSize": 12, "color": "#444444", "font": "Open Sans"},
          "encoding": {
            "x": {"field": "m", "type": "quantitative", "axis": null},
            "y": {"datum": 29427, "type": "quantitative", "scale": {"domain": [24130, 29427], "nice": false, "zero": false}, "axis": null},
            "text": {"field": "n"}
          }
        }
      ],
      "resolve": {"scale": {"y": "independent"}, "axis": {"x": "independent"}}
    },
    {
      "width": 840,
      "height": 119,
      "layer": [
        {
          "data": {"name": "px"},
          "transform": [{"calculate": "(toNumber(slice(datum.t, 0, 2)) - 9) * 60 + toNumber(slice(datum.t, 3, 5))", "as": "m"}],
          "mark": {"type": "bar", "width": 1.2, "opacity": 0.3},
          "encoding": {
            "x": {"field": "m", "type": "quantitative", "scale": {"domain": [-2.35, 392], "nice": false, "zero": false}, "axis": null},
            "y": {"field": "v", "type": "quantitative", "scale": {"domain": [0, 77700], "nice": false}, "axis": null},
            "color": {"condition": {"test": "datum.c > datum.o", "value": "#ff0000"}, "value": "#0000ff"}
          }
        },
        {
          "data": {"name": "px"},
          "transform": [{"calculate": "(toNumber(slice(datum.t, 0, 2)) - 9) * 60 + toNumber(slice(datum.t, 3, 5))", "as": "m"}],
          "mark": {"type": "rule", "strokeWidth": 1},
          "encoding": {
            "x": {"field": "m", "type": "quantitative"},
            "y": {"field": "l", "type": "quantitative", "scale": {"domain": [24130, 29427], "nice": false, "zero": false}, "axis": null},
            "y2": {"field": "h"},
            "color": {"condition": {"test": "datum.c > datum.o", "value": "#ff0000"}, "value": "#0000ff"}
          }
        },
        {
          "data": {"name": "px"},
          "transform": [{"calculate": "(toNumber(slice(datum.t, 0, 2)) - 9) * 60 + toNumber(slice(datum.t, 3, 5))", "as": "m"}],
          "mark": {"type": "bar", "width": 2.5, "strokeWidth": 1},
          "encoding": {
            "x": {"field": "m", "type": "quantitative"},
            "y": {"field": "o", "type": "quantitative", "scale": {"domain": [24130, 29427], "nice": false, "zero": false}, "axis": null},
            "y2": {"field": "c"},
            "color": {"condition": {"test": "datum.c > datum.o", "value": "#ff0000"}, "value": "#0000ff"},
            "stroke": {"condition": {"test": "datum.c > datum.o", "value": "#ff0000"}, "value": "#0000ff"}
          }
        },
        {
          "data": {"name": "events"},
          "mark": {"type": "tick", "thickness": 4, "size": 60, "color": "white", "stroke": "#444444", "strokeWidth": 1},
          "encoding": {
            "x": {"datum": -0.8, "type": "quantitative"}
          }
        },
        {
          "data": {"name": "events"},
          "mark": {"type": "tick", "thickness": 4, "size": 60, "color": "white", "stroke": "#444444", "strokeWidth": 1},
          "encoding": {
            "x": {"datum": 390.8, "type": "quantitative"}
          }
        }
      ],
      "resolve": {"scale": {"y": "independent"}}
    }
  ],
  "spacing": 51,
  "bounds": "flush",
  "config": {
    "view": {"fill": "#e5ecf6", "stroke": null},
    "font": "Open Sans",
    "axis": {
      "labelFont": "Open Sans",
      "labelFontSize": 12,
      "labelColor": "#2a3f5f",
      "titleFont": "Open Sans",
      "titleFontSize": 14,
      "titleFontWeight": "bold",
      "titleColor": "#2a3f5f"
    }
  }
}
